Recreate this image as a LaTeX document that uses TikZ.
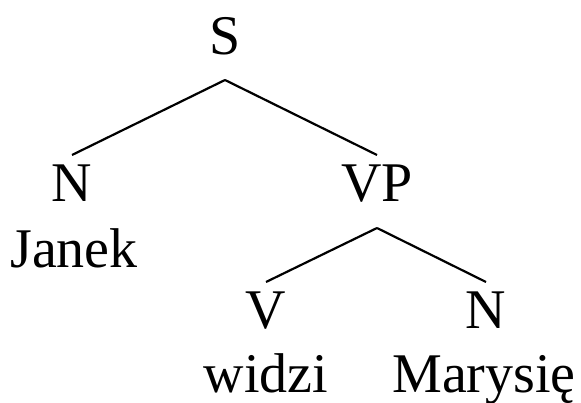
\documentclass[tikz,border=0pt]{standalone}
\usepackage{fontspec}
\setmainfont{Liberation Serif}
\begin{document}
\begin{tikzpicture}[x=1pt,y=-1pt,
    cat/.style={anchor=base,inner sep=0pt,font=\fontsize{56}{60}\selectfont},
    branch/.style={line width=2.2pt}]
            \useasboundingbox (0,0) rectangle (581,403);
            \node[cat] (S) at (225,55) {S};
            \node[cat] (N1) at (72,202) {N};
            \node[cat] (janek) at (74,268) {Janek};
            \node[cat] (VP) at (377,202) {VP};
            \node[cat] (V) at (266,328) {V};
            \node[cat] (widzi) at (266,392) {widzi};
            \node[cat] (N2) at (486,328) {N};
            \node[cat] (marysie) at (484,392) {Marysię};
        %
            \draw[branch] ([yshift=-25pt]S.base) -- ([yshift=47pt]N1.base);
            \draw[branch] ([yshift=-25pt]S.base) -- ([yshift=47pt]VP.base);
            \draw[branch] ([yshift=-26pt]VP.base) -- ([yshift=46pt]V.base);
            \draw[branch] ([yshift=-26pt]VP.base) -- ([yshift=46pt]N2.base);
\end{tikzpicture}
\end{document}
